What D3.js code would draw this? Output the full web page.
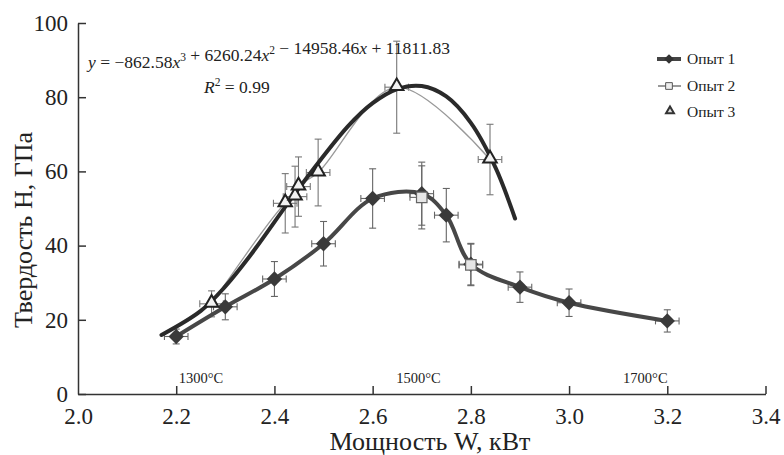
<!DOCTYPE html>
<html>
<head>
<meta charset="utf-8">
<script src="https://cdn.jsdelivr.net/npm/d3@7"></script>
<style>
  body { margin: 0; background: #fff; }
</style>
</head>
<body>
<svg width="784" height="455"></svg>
<script>
// data
const power1 = [2.2, 2.3, 2.4, 2.5, 2.6, 2.7, 2.75, 2.8, 2.9, 3.0, 3.2];
const hard1 = [15.5, 23.5, 31, 40.5, 52.7, 54, 48.2, 35, 28.8, 24.6, 19.7];
const err1 = [2, 3.5, 4.7, 6, 8, 8.5, 7.2, 5.6, 4.1, 3.7, 3];

const power2 = [2.7, 2.8];
const hard2 = [53, 34.8];
const err2 = [8.5, 5.6];

const power3 = [2.272, 2.422, 2.442, 2.449, 2.489, 2.649, 2.839];
const hard3 = [24.3, 51.4, 53.2, 55.9, 59.7, 82.7, 63.2];
const err3 = [3.5, 8, 8.2, 8, 9, 12.4, 9.5];

const xErr = 0.024;

// polynomial trend, points
const trendX = [2.17, 2.25, 2.3, 2.35, 2.45, 2.55, 2.6, 2.65, 2.7, 2.75, 2.8, 2.85, 2.89];
const trendY = [15.9, 22.4, 29.0, 37.2, 55.5, 72.2, 78.4, 82.2, 83.0, 80.2, 73.1, 61.1, 47.3];

const xTicks = [2.0, 2.2, 2.4, 2.6, 2.8, 3.0, 3.2, 3.4];
const yTicks = [0, 20, 40, 60, 80, 100];

const tempLabels = ['1300°C', '1500°C', '1700°C'];
const tempX = [2.205, 2.648, 3.11];

const seriesNames = ['Опыт 1', 'Опыт 2', 'Опыт 3'];

const serif = '"Liberation Serif", "Times New Roman", Times, "DejaVu Serif", serif';

const svg = d3.select('svg').style('font-family', serif);
const x = d3.scaleLinear().domain([2.0, 3.4]).range([78, 765.5]);
const y = d3.scaleLinear().domain([0, 100]).range([394, 23]);

const zip = (xs, ys, es) => xs.map((v, i) => ({x: v, y: ys[i], e: es ? es[i] : 0}));
const s1 = zip(power1, hard1, err1);
const s2 = zip(power2, hard2, err2);
const s3 = zip(power3, hard3, err3);
const trend = zip(trendX, trendY);

// axes
const xAxis = svg.append('g')
    .attr('transform', `translate(0, ${y(0)})`)
    .call(d3.axisBottom(x).tickValues(xTicks).tickFormat(d3.format('.1f'))
        .tickSize(-8).tickSizeOuter(0).tickPadding(14));
const yAxis = svg.append('g')
    .attr('transform', `translate(${x(2.0)}, 0)`)
    .call(d3.axisLeft(y).tickValues(yTicks).tickSize(-8).tickSizeOuter(0).tickPadding(10));

[xAxis, yAxis].forEach(a => {
    a.attr('font-family', null);
    a.selectAll('path, line').attr('stroke', '#333').attr('stroke-width', 1.5);
    a.selectAll('text').style('font-size', '23px').attr('fill', '#222');
});
xAxis.selectAll('.tick').filter(d => d === 2.0).select('line').remove();

svg.append('text')
    .attr('x', 430).attr('y', 450)
    .attr('text-anchor', 'middle')
    .style('font-size', '26px')
    .attr('fill', '#222')
    .text('Мощность W, кВт');

svg.append('text')
    .attr('transform', 'translate(32, 230) rotate(-90)')
    .attr('text-anchor', 'middle')
    .style('font-size', '26px')
    .attr('fill', '#222')
    .text('Твердость H, ГПа');

// temperature marks
svg.selectAll('.temp').data(tempLabels).join('text')
    .attr('class', 'temp')
    .attr('x', (d, i) => x(tempX[i]))
    .attr('y', 383)
    .style('font-size', '14.5px')
    .attr('fill', '#222')
    .text(d => d);

// error bars
function errorBars(data, color) {
    const g = svg.append('g').attr('stroke', color).attr('stroke-width', 1.1).attr('fill', 'none');
    const cap = 3.5;
    data.forEach(d => {
        const cx = x(d.x), cy = y(d.y);
        const y0 = y(d.y - d.e), y1 = y(d.y + d.e);
        const x0 = x(d.x - xErr), x1 = x(d.x + xErr);
        g.append('line').attr('x1', cx).attr('x2', cx).attr('y1', y0).attr('y2', y1);
        g.append('line').attr('x1', cx - cap).attr('x2', cx + cap).attr('y1', y0).attr('y2', y0);
        g.append('line').attr('x1', cx - cap).attr('x2', cx + cap).attr('y1', y1).attr('y2', y1);
        g.append('line').attr('x1', x0).attr('x2', x1).attr('y1', cy).attr('y2', cy);
        g.append('line').attr('x1', x0).attr('x2', x0).attr('y1', cy - cap).attr('y2', cy + cap);
        g.append('line').attr('x1', x1).attr('x2', x1).attr('y1', cy - cap).attr('y2', cy + cap);
    });
}
errorBars(s3, '#777');
errorBars(s1, '#666');
errorBars(s2, '#666');

// lines
const line = d3.line().x(d => x(d.x)).y(d => y(d.y));

svg.append('path')
    .datum(s3)
    .attr('d', line.curve(d3.curveCatmullRom.alpha(0.5)))
    .attr('fill', 'none').attr('stroke', '#999').attr('stroke-width', 1.3);

svg.append('path')
    .datum(trend)
    .attr('d', line.curve(d3.curveCatmullRom.alpha(0.5)))
    .attr('fill', 'none').attr('stroke', '#2a2a2a').attr('stroke-width', 4)
    .attr('stroke-linecap', 'round');

svg.append('path')
    .datum(s1)
    .attr('d', line.curve(d3.curveCatmullRom.alpha(0.5)))
    .attr('fill', 'none').attr('stroke', '#474747').attr('stroke-width', 4)
    .attr('stroke-linecap', 'round');

// markers
const diamond = d3.symbol().type(d3.symbolDiamond2).size(150);
const square = d3.symbol().type(d3.symbolSquare).size(110);
const triangle = d3.symbol().type(d3.symbolTriangle2).size(130);

svg.selectAll('.m1').data(s1).join('path')
    .attr('class', 'm1')
    .attr('transform', d => `translate(${x(d.x)}, ${y(d.y)})`)
    .attr('d', diamond)
    .attr('fill', '#3a3a3a');

svg.selectAll('.m2').data(s2).join('path')
    .attr('class', 'm2')
    .attr('transform', d => `translate(${x(d.x)}, ${y(d.y)})`)
    .attr('d', square)
    .attr('fill', '#e6e6e6').attr('stroke', '#666').attr('stroke-width', 1.2);

svg.selectAll('.m3').data(s3).join('path')
    .attr('class', 'm3')
    .attr('transform', d => `translate(${x(d.x)}, ${y(d.y) - 1})`)
    .attr('d', triangle)
    .attr('fill', '#f2f2f2').attr('stroke', '#222').attr('stroke-width', 2);

// equation
const eq = svg.append('text').attr('x', 88).attr('y', 68).style('font-size', '17.5px').attr('fill', '#222');
const parts = [
    ['y', true], [' = −862.58', false], ['x', true], ['3', false, 'sup'], [' + 6260.24', false],
    ['x', true], ['2', false, 'sup'], [' − 14958.46', false], ['x', true], [' + 11811.83', false]
];
parts.forEach(p => {
    const t = eq.append('tspan').text(p[0]);
    if (p[1]) t.style('font-style', 'italic');
    if (p[2] === 'sup') {
        t.attr('dy', -7).style('font-size', '11.5px');
        eq.append('tspan').attr('dy', 7).text('');
    }
});
const r2 = svg.append('text').attr('x', 204).attr('y', 93).style('font-size', '17.5px').attr('fill', '#222');
r2.append('tspan').style('font-style', 'italic').text('R');
r2.append('tspan').attr('dy', -7).style('font-size', '11.5px').text('2');
r2.append('tspan').attr('dy', 7).text(' = 0.99');

// legend
const legendY = [59, 86, 112];
const legend = svg.append('g');
legend.append('line').attr('x1', 657).attr('x2', 681).attr('y1', legendY[0]).attr('y2', legendY[0])
    .attr('stroke', '#444').attr('stroke-width', 4);
legend.append('path').attr('transform', `translate(669, ${legendY[0]})`)
    .attr('d', d3.symbol().type(d3.symbolDiamond2).size(60)).attr('fill', '#333');
legend.append('line').attr('x1', 658).attr('x2', 681).attr('y1', legendY[1]).attr('y2', legendY[1])
    .attr('stroke', '#777').attr('stroke-width', 1.5);
legend.append('path').attr('transform', `translate(669, ${legendY[1]})`)
    .attr('d', d3.symbol().type(d3.symbolSquare).size(45))
    .attr('fill', '#eee').attr('stroke', '#555').attr('stroke-width', 1);
legend.append('path').attr('transform', `translate(670, ${legendY[2] - 1})`)
    .attr('d', d3.symbol().type(d3.symbolTriangle2).size(45))
    .attr('fill', '#ddd').attr('stroke', '#333').attr('stroke-width', 2);
legend.selectAll('text').data(seriesNames).join('text')
    .attr('x', 687).attr('y', (d, i) => legendY[i] + 5)
    .style('font-size', '15.5px').attr('fill', '#222')
    .text(d => d);

svg.selectAll('text').style('font-family', serif);
</script>
</body>
</html>
